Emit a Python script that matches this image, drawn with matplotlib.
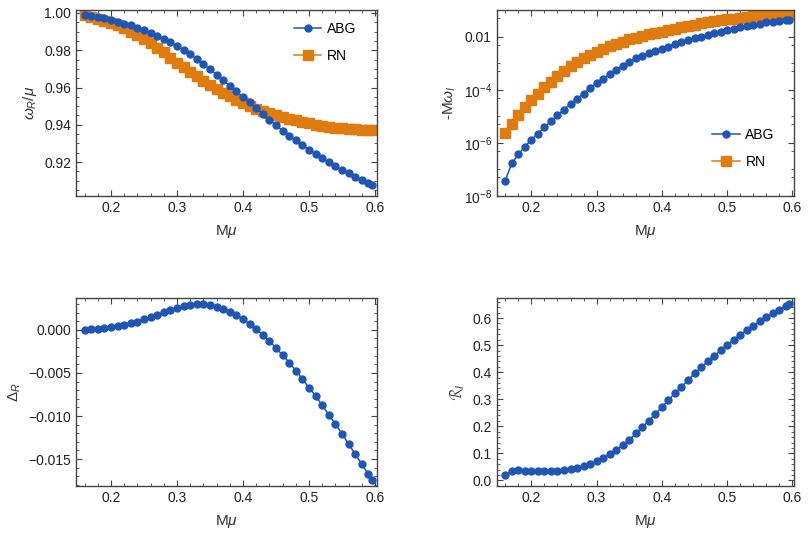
import numpy as np
import matplotlib
matplotlib.use("Agg")
import matplotlib.pyplot as plt
from matplotlib.ticker import MultipleLocator, FixedLocator, FuncFormatter, NullFormatter

plt.rcParams['font.family'] = ['Liberation Sans', 'DejaVu Sans']
plt.rcParams['mathtext.fontset'] = 'custom'
plt.rcParams['mathtext.rm'] = 'Liberation Sans'
plt.rcParams['mathtext.it'] = 'Liberation Sans:italic'
plt.rcParams['font.size'] = 10

BLUE = '#1f56b4'
ORANGE = '#e07b10'
FRAME = '#444444'

# M*mu grid
mmu = [0.16, 0.17, 0.18, 0.19, 0.20, 0.21, 0.22, 0.23, 0.24, 0.25, 0.26, 0.27,
       0.28, 0.29, 0.30, 0.31, 0.32, 0.33, 0.34, 0.35, 0.36, 0.37, 0.38, 0.39,
       0.40, 0.41, 0.42, 0.43, 0.44, 0.45, 0.46, 0.47, 0.48, 0.49, 0.50, 0.51,
       0.52, 0.53, 0.54, 0.55, 0.56, 0.57, 0.58, 0.59, 0.595]

# omega_R / mu
wr_abg = [0.9990, 0.9985, 0.9979, 0.9973, 0.9964, 0.9953, 0.9943, 0.9934, 0.9921,
          0.9907, 0.9893, 0.9878, 0.9860, 0.9842, 0.9821, 0.9800, 0.9778, 0.9753,
          0.9726, 0.9698, 0.9669, 0.9638, 0.9610, 0.9579, 0.9549, 0.9520, 0.9490,
          0.9458, 0.9427, 0.9399, 0.9368, 0.9340, 0.9316, 0.9291, 0.9266, 0.9243,
          0.9220, 0.9198, 0.9178, 0.9159, 0.9139, 0.9121, 0.9103, 0.9089, 0.9078]
wr_rn = [0.9987, 0.9979, 0.9968, 0.9957, 0.9946, 0.9934, 0.9918, 0.9900, 0.9882,
         0.9860, 0.9837, 0.9812, 0.9789, 0.9760, 0.9733, 0.9708, 0.9685, 0.9660,
         0.9637, 0.9613, 0.9592, 0.9570, 0.9553, 0.9535, 0.9517, 0.9502, 0.9486,
         0.9474, 0.9463, 0.9451, 0.9442, 0.9433, 0.9424, 0.9415, 0.9408, 0.9400,
         0.9395, 0.9390, 0.9384, 0.9381, 0.9377, 0.9375, 0.9374, 0.9374, 0.9374]

# log10(-M omega_I)
logwi_abg = [-7.43, -6.78, -6.44, -6.14, -5.89, -5.65, -5.41, -5.19, -4.96, -4.75,
             -4.53, -4.33, -4.14, -3.94, -3.75, -3.58, -3.40, -3.24, -3.09, -2.95,
             -2.81, -2.71, -2.61, -2.54, -2.46, -2.38, -2.29, -2.21, -2.13, -2.06,
             -2.00, -1.93, -1.86, -1.80, -1.74, -1.69, -1.64, -1.59, -1.54, -1.50,
             -1.46, -1.44, -1.40, -1.38, -1.36]
logwi_rn = [-5.63, -5.28, -4.95, -4.66, -4.39, -4.15, -3.91, -3.69, -3.48, -3.29,
            -3.11, -2.96, -2.81, -2.68, -2.56, -2.45, -2.36, -2.26, -2.18, -2.10,
            -2.03, -1.96, -1.91, -1.86, -1.80, -1.75, -1.69, -1.64, -1.59, -1.54,
            -1.49, -1.45, -1.41, -1.38, -1.34, -1.31, -1.28, -1.25, -1.23, -1.20,
            -1.18, -1.16, -1.15, -1.14, -1.13]

# Delta_R
delta_r = [0.00003, 0.00008, 0.00012, 0.00019, 0.00031, 0.00043, 0.00058, 0.00078,
           0.00097, 0.00124, 0.00147, 0.00174, 0.00202, 0.00230, 0.00252, 0.00275,
           0.00291, 0.00295, 0.00295, 0.00287, 0.00271, 0.00248, 0.00213, 0.00174,
           0.00124, 0.00070, 0.00008, -0.00058, -0.00128, -0.00213, -0.00291,
           -0.00380, -0.00473, -0.00570, -0.00671, -0.00767, -0.00876, -0.00984,
           -0.01093, -0.01205, -0.01326, -0.01442, -0.01558, -0.01678, -0.01744]

# R_I
r_i = [0.0185, 0.0345, 0.0370, 0.0357, 0.0345, 0.0333, 0.0333, 0.0333, 0.0345,
       0.0370, 0.0407, 0.0456, 0.0530, 0.0604, 0.0702, 0.0813, 0.0961, 0.1121,
       0.1306, 0.1503, 0.1737, 0.1971, 0.2205, 0.2464, 0.2710, 0.2969, 0.3228,
       0.3462, 0.3708, 0.3955, 0.4176, 0.4398, 0.4608, 0.4805, 0.5002, 0.5199,
       0.5384, 0.5544, 0.5716, 0.5877, 0.6024, 0.6172, 0.6308, 0.6443, 0.6517]

fig = plt.figure(figsize=(8.09, 5.35), dpi=100)
ax1 = fig.add_axes([0.094, 0.634, 0.372, 0.348])
ax2 = fig.add_axes([0.614, 0.634, 0.368, 0.348])
ax3 = fig.add_axes([0.094, 0.092, 0.372, 0.351])
ax4 = fig.add_axes([0.614, 0.092, 0.368, 0.351])


def frame(ax):
    for s in ax.spines.values():
        s.set_color(FRAME)
        s.set_linewidth(1.0)
    ax.tick_params(which='both', direction='in', top=True, right=True,
                   color=FRAME, labelsize=10, labelcolor='#222222')
    ax.tick_params(which='major', length=4, width=0.8)
    ax.tick_params(which='minor', length=2, width=0.6)
    ax.set_xlim(0.147, 0.603)
    ax.xaxis.set_major_locator(FixedLocator([0.2, 0.3, 0.4, 0.5, 0.6]))
    ax.xaxis.set_minor_locator(MultipleLocator(0.02))
    ax.xaxis.set_major_formatter(FuncFormatter(lambda v, p: f"{v:.1f}"))
    ax.set_xlabel(r'M$\mu$', fontsize=11, color='#333333', labelpad=6)


abg_kw = dict(color=BLUE, marker='o', markersize=5, lw=1.1)
rn_kw = dict(color=ORANGE, marker='s', markersize=7.3, lw=1.1)

# panel 1
ax1.plot(mmu, wr_rn, label='RN', zorder=2, **rn_kw)
ax1.plot(mmu, wr_abg, label='ABG', zorder=3, **abg_kw)
frame(ax1)
ax1.set_ylim(0.9019, 1.0018)
ax1.yaxis.set_major_locator(MultipleLocator(0.02))
ax1.yaxis.set_minor_locator(MultipleLocator(0.005))
ax1.yaxis.set_major_formatter(FuncFormatter(lambda v, p: f"{v:.2f}"))
ax1.set_ylabel(r'$\omega_R/\mu$', fontsize=11, color='#333333')
h, l = ax1.get_legend_handles_labels()
ax1.legend(h[::-1], l[::-1], loc='upper left', bbox_to_anchor=(0.70, 0.97),
           frameon=False, handlelength=2.0, handletextpad=0.4, labelspacing=0.9,
           borderpad=0, fontsize=10)

# panel 2
wi_abg = [10 ** v for v in logwi_abg]
wi_rn = [10 ** v for v in logwi_rn]
ax2.plot(mmu, wi_rn, label='RN', zorder=2, **rn_kw)
ax2.plot(mmu, wi_abg, label='ABG', zorder=3, **abg_kw)
frame(ax2)
ax2.set_yscale('log')
ax2.set_ylim(1e-8, 0.106)
ax2.yaxis.set_major_locator(FixedLocator([1e-8, 1e-6, 1e-4, 1e-2]))
minors = [k * 10.0 ** e for e in range(-8, 0) for k in (1, 5)]
ax2.yaxis.set_minor_locator(FixedLocator(minors))
ax2.yaxis.set_minor_formatter(NullFormatter())


def logfmt(v, p):
    e = int(round(np.log10(v)))
    if e == -2:
        return "0.01"
    return r'$10^{%d}$' % e


ax2.yaxis.set_major_formatter(FuncFormatter(logfmt))
ax2.set_ylabel(r'-M$\omega_I$', fontsize=11, color='#333333')
h, l = ax2.get_legend_handles_labels()
ax2.legend(h[::-1], l[::-1], loc='upper left', bbox_to_anchor=(0.70, 0.40),
           frameon=False, handlelength=2.0, handletextpad=0.4, labelspacing=0.9,
           borderpad=0, fontsize=10)

# panel 3
ax3.plot(mmu, delta_r, **abg_kw)
frame(ax3)
ax3.set_ylim(-0.0181, 0.0037)
ax3.yaxis.set_major_locator(MultipleLocator(0.005))
ax3.yaxis.set_minor_locator(MultipleLocator(0.001))
ax3.yaxis.set_major_formatter(FuncFormatter(lambda v, p: f"{v:.3f}".replace('-', '\u2212')))
ax3.set_ylabel(r'$\Delta_R$', fontsize=11, color='#333333')

# panel 4
ax4.plot(mmu, r_i, **abg_kw)
frame(ax4)
ax4.set_ylim(-0.0196, 0.674)
ax4.yaxis.set_major_locator(MultipleLocator(0.1))
ax4.yaxis.set_minor_locator(MultipleLocator(0.02))
ax4.yaxis.set_major_formatter(FuncFormatter(lambda v, p: f"{v:.1f}"))
ax4.set_ylabel(r'$\mathcal{R}_I$', fontsize=11, color='#333333')

fig.savefig('out.png', dpi=100)
